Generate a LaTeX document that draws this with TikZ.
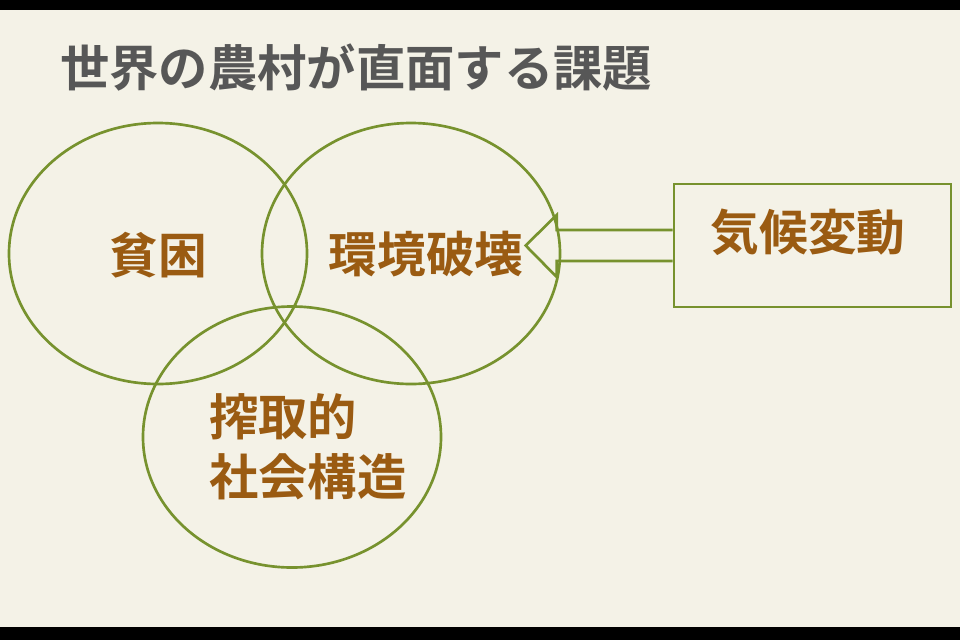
\documentclass[tikz,border=0pt]{standalone}
\usepackage{fontspec}
\setmainfont{Noto Sans CJK JP}[BoldFont={Noto Sans CJK JP Bold}]
\usetikzlibrary{shapes.geometric}
\definecolor{bgc}{HTML}{F4F2E7}
\definecolor{olive}{HTML}{77922E}
\definecolor{brownt}{HTML}{9A5B12}
\definecolor{titleg}{HTML}{575757}
\newlength{\xu}\setlength{\xu}{0.75pt}
\tikzset{
  venn/.style={draw=olive, line width=2pt, ellipse, minimum width=298\xu, minimum height=261\xu, inner sep=0pt},
  lbl/.style={text=brownt, font=\bfseries\fontsize{36.5}{45}\selectfont, inner sep=0pt},
  cbox/.style={draw=olive, line width=2pt, minimum width=277\xu, minimum height=123\xu, inner sep=0pt},
}
\begin{document}
\begin{tikzpicture}[x=0.75pt,y=-0.75pt]
\fill[bgc] (0,0) rectangle (960,640);
\useasboundingbox (0,0) rectangle (960,640);
\fill[black] (0,0) rectangle (960,10);
\fill[black] (0,627) rectangle (960,640);
\node[anchor=west, text=titleg, font=\bfseries\fontsize{37}{44}\selectfont, inner sep=0pt] (title) at (60,68) {世界の農村が直面する課題};
\node[venn] (pov) at (158,253.5) {};
\node[venn] (env) at (411,253.5) {};
\node[venn] (soc) at (292,437) {};
\node[lbl] (povt) at (158,255) {貧困};
\node[lbl] (envt) at (426,254) {環境破壊};
\node[lbl, align=left, anchor=north west, font=\bfseries\fontsize{37}{45}\selectfont] (soct) at (209,393) {搾取的\\社会構造};
\node[cbox] (clim) at (812.5,245.5) {};
\node[lbl] (climt) at (808,232) {気候変動};
\draw[olive, line width=2pt, line join=miter]
  ([yshift=15.5\xu]clim.west) -- ++(-116,0) -- ++(0,-15) -- ++(-31,30.5) -- ++(31,31.5) -- ++(0,-16) -- ([yshift=-15.5\xu]clim.west);
\end{tikzpicture}
\end{document}
